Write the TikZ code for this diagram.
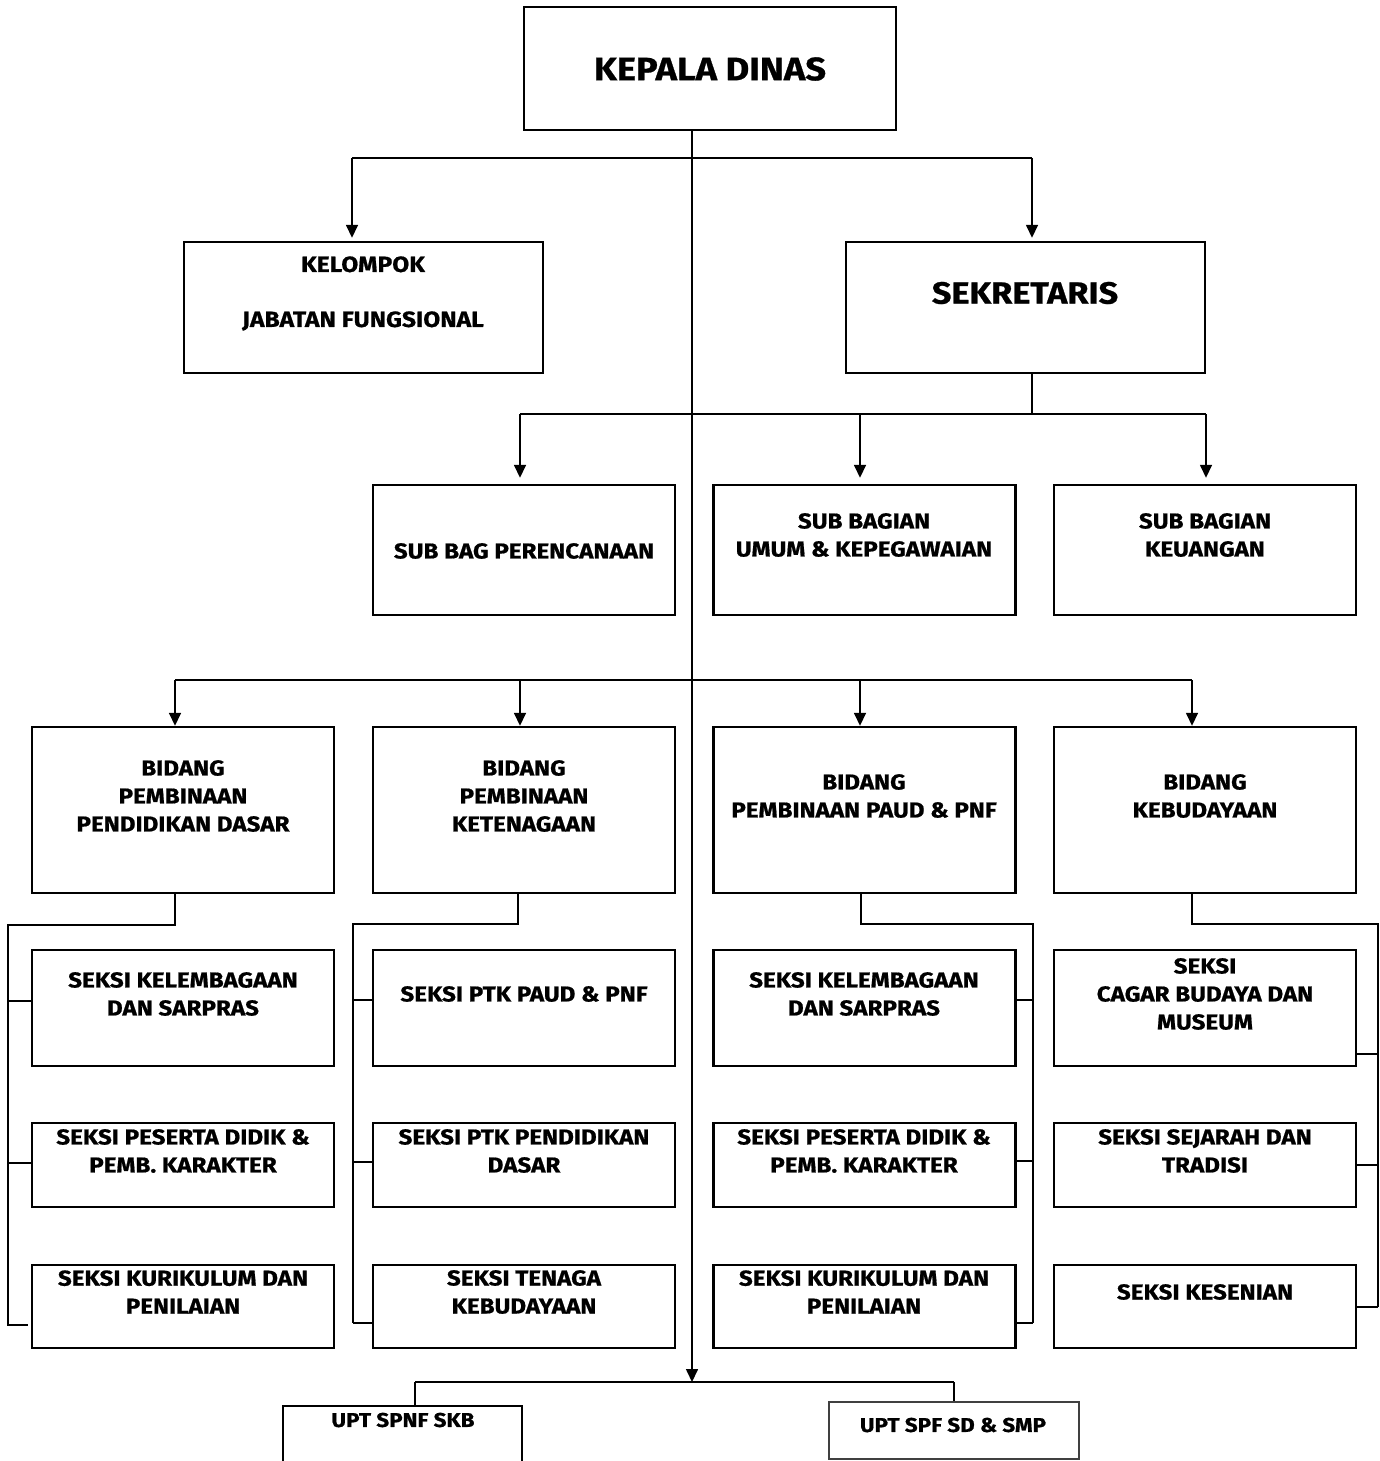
\documentclass[tikz,border=0pt]{standalone}
\usepackage{fontspec}
\setmainfont{Fira Sans}[FakeStretch=1.12, BoldFeatures={FakeBold=0.8}]
\usetikzlibrary{arrows.meta}
\tikzset{
  box/.style={draw, line width=1.2pt, minimum width=151pt, inner sep=0pt},
  txt/.style={align=center, inner sep=0pt, font=\bfseries\fontsize{10.8}{14}\selectfont},
  link/.style={line width=0.8pt},
  arr/.style={link, -{Triangle[length=6.5pt,width=6pt]}},
}
\begin{document}
\begin{tikzpicture}[x=0.5pt,y=-0.5pt]
  \clip (0,0) rectangle (1380,1461);
  \fill[white] (0,0) rectangle (1380,1461);
  % Boxes
  \node[box, minimum width=186pt, minimum height=61.5pt] (kadis) at (710,68.5) {};
  \node[box, minimum width=179.5pt, minimum height=65.5pt] (kjf) at (363.5,307.5) {};
  \node[box, minimum width=179.5pt, minimum height=65.5pt] (sekr) at (1025.5,307.5) {};
  \node[box, minimum height=65pt] (sbper) at (524,550) {};
  \node[box, minimum height=65pt] (sbumum) at (864.5,550) {};
  \node[box, minimum height=65pt] (sbkeu) at (1205,550) {};
  \foreach \c/\x in {1/183,2/524,3/864.5,4/1205} {
    \node[box, minimum height=83pt] (b\c) at (\x,810) {};
    \node[box, minimum height=58pt] (s1\c) at (\x,1008) {};
    \node[box, minimum height=42pt] (s2\c) at (\x,1165) {};
    \node[box, minimum height=41.5pt] (s3\c) at (\x,1306.5) {};
  }
  \node[box, minimum width=119.5pt, minimum height=34.5pt] (upt1) at (402.5,1440.5) {};
  \node[box, draw=black!75, line width=0.6pt, minimum width=125pt, minimum height=28.5pt] (upt2) at (954,1430.5) {};
  % Texts
  \node[txt, font=\bfseries\fontsize{16.2}{18}\selectfont] (tkadis) at (710,69) {KEPALA DINAS};
  \node[txt, font=\bfseries\fontsize{11}{14}\selectfont] (tkjf) at (363,293.5) {KELOMPOK\\[13.5pt]JABATAN FUNGSIONAL};
  \node[txt, font=\bfseries\fontsize{15.3}{18}\selectfont] (tsekr) at (1025,293) {SEKRETARIS};
  \node[txt] (tsbper) at (524,551) {SUB BAG PERENCANAAN};
  \node[txt] (tsbumum) at (864,535) {SUB BAGIAN\\UMUM \& KEPEGAWAIAN};
  \node[txt] (tsbkeu) at (1205,535) {SUB BAGIAN\\KEUANGAN};
  \node[txt] (tb1) at (183,796) {BIDANG\\PEMBINAAN\\PENDIDIKAN DASAR};
  \node[txt] (tb2) at (524,796) {BIDANG\\PEMBINAAN\\KETENAGAAN};
  \node[txt] (tb3) at (864,796) {BIDANG\\PEMBINAAN PAUD \& PNF};
  \node[txt] (tb4) at (1205,796) {BIDANG\\KEBUDAYAAN};
  \node[txt] (ts11) at (183,994) {SEKSI KELEMBAGAAN\\DAN SARPRAS};
  \node[txt] (ts12) at (524,994) {SEKSI PTK PAUD \& PNF};
  \node[txt] (ts13) at (864,994) {SEKSI KELEMBAGAAN\\DAN SARPRAS};
  \node[txt] (ts14) at (1205,994) {SEKSI\\CAGAR BUDAYA DAN\\MUSEUM};
  \node[txt] (ts21) at (183,1151) {SEKSI PESERTA DIDIK \&\\PEMB. KARAKTER};
  \node[txt] (ts22) at (524,1151) {SEKSI PTK PENDIDIKAN\\DASAR};
  \node[txt] (ts23) at (864,1151) {SEKSI PESERTA DIDIK \&\\PEMB. KARAKTER};
  \node[txt] (ts24) at (1205,1151) {SEKSI SEJARAH DAN\\TRADISI};
  \node[txt] (ts31) at (183,1292) {SEKSI KURIKULUM DAN\\PENILAIAN};
  \node[txt] (ts32) at (524,1292) {SEKSI TENAGA\\KEBUDAYAAN};
  \node[txt] (ts33) at (864,1292) {SEKSI KURIKULUM DAN\\PENILAIAN};
  \node[txt] (ts34) at (1205,1292) {SEKSI KESENIAN};
  \node[txt, font=\bfseries\fontsize{10}{14}\selectfont] (tupt1) at (403,1420) {UPT SPNF SKB};
  \node[txt, font=\bfseries\fontsize{10}{14}\selectfont] (tupt2) at (953,1425) {UPT SPF SD \& SMP};
  % Spine
  \coordinate (upt) at (692,1382);
  \draw[arr] (kadis.south -| upt) -- (upt);
  % Level 1
  \coordinate (t1) at (352,158);
  \coordinate (t2) at (1032,158);
  \draw[link] (t1) -- (t2);
  \draw[arr, shorten >=1.5pt] (t1) -- (t1 |- kjf.north);
  \draw[arr, shorten >=1.5pt] (t2) -- (t2 |- sekr.north);
  % Sekretariat
  \coordinate (sb) at (1032,414);
  \draw[link] (sekr.south -| sb) -- (sb);
  \draw[link] (520,414) -- (1206,414);
  \foreach \x/\n in {520/sbper, 860/sbumum, 1206/sbkeu} {
    \coordinate (a) at (\x,414);
    \draw[arr, shorten >=3pt] (a) -- (a |- \n.north);
  }
  % Bidang
  \draw[link] (175,680) -- (1192,680);
  \foreach \x/\n in {175/b1, 520/b2, 860/b3, 1192/b4} {
    \coordinate (a) at (\x,680);
    \draw[arr] (a) -- (a |- \n.north);
  }
  % Seksi
  \coordinate (d1) at (175,925);
  \draw[link] (d1 |- b1.south) -- (d1) -- (8,925) -- (8,1325) -- (28,1325);
  \foreach \y/\n in {1001/s11, 1163/s21} {
    \coordinate (a) at (8,\y);
    \draw[link] (a) -- (a -| \n.west);
  }
  \coordinate (d2) at (518,924);
  \draw[link] (d2 |- b2.south) -- (d2) -- (353,924) -- (353,1323);
  \foreach \y/\n in {1000/s12, 1162/s22, 1323/s32} {
    \coordinate (a) at (353,\y);
    \draw[link] (a) -- (a -| \n.west);
  }
  \coordinate (d3) at (861,924);
  \draw[link] (d3 |- b3.south) -- (d3) -- (1033,924) -- (1033,1323);
  \foreach \y/\n in {1000/s13, 1161/s23, 1323/s33} {
    \coordinate (a) at (1033,\y);
    \draw[link] (a) -- (a -| \n.east);
  }
  \coordinate (d4) at (1192,924);
  \draw[link] (d4 |- b4.south) -- (d4) -- (1378,924) -- (1378,1307);
  \foreach \y/\n in {1054/s14, 1165/s24, 1307/s34} {
    \coordinate (a) at (1378,\y);
    \draw[link] (a) -- (a -| \n.east);
  }
  % UPT
  \coordinate (u1) at (415,1382);
  \coordinate (u2) at (954,1382);
  \draw[link] (u1) -- (u2);
  \draw[link] (u1) -- (u1 |- upt1.north);
  \draw[link] (u2) -- (u2 |- upt2.north);
\end{tikzpicture}
\end{document}
